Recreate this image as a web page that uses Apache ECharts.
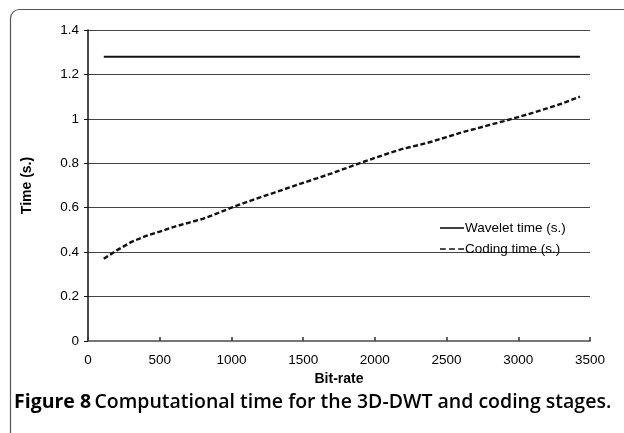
<!DOCTYPE html>
<html>
<head>
<meta charset="utf-8">
<script src="https://cdn.jsdelivr.net/npm/echarts@6/dist/echarts.min.js"></script>
<style>
  html, body { margin: 0; padding: 0; background: #fff; }
  #chart { width: 624px; height: 433px; }
</style>
</head>
<body>
<div id="chart"></div>
<script>
// Bit-rate samples (x axis)
const bitRates = [110, 200, 300, 400, 500, 600, 700, 800, 900, 1000, 1100, 1200, 1300, 1400, 1500,
  1600, 1700, 1800, 1900, 2000, 2100, 2200, 2300, 2400, 2500, 2600, 2700, 2800, 2900, 3000,
  3100, 3200, 3300, 3430];
// 3D-DWT time is independent of the bit-rate
const waveletTimes = bitRates.map(() => 1.28);
// Coding stage time (s.)
const codingTimes = [0.370, 0.408, 0.445, 0.472, 0.492, 0.514, 0.532, 0.550, 0.574, 0.600, 0.624,
  0.647, 0.668, 0.690, 0.712, 0.733, 0.755, 0.778, 0.802, 0.824, 0.846, 0.866, 0.881, 0.898,
  0.918, 0.938, 0.955, 0.973, 0.990, 1.008, 1.027, 1.047, 1.068, 1.100];
const seriesNames = ['Wavelet time (s.)', 'Coding time (s.)'];
const xTicks = { min: 0, max: 3500, interval: 500 };
const yTicks = { min: 0, max: 1.4, interval: 0.2 };

const pairs = (ys) => bitRates.map((b, i) => [b, ys[i]]);

const chart = echarts.init(document.getElementById('chart'), null, { renderer: 'canvas' });
chart.setOption({
  animation: false,
  backgroundColor: '#fff',
  textStyle: { fontFamily: 'Liberation Sans, Arial, sans-serif' },
  grid: { left: 88, right: 34, top: 30, bottom: 92 },
  legend: {
    data: [
      { name: seriesNames[0], icon: 'path://M0,0L30,0L30,2L0,2Z' },
      { name: seriesNames[1], icon: 'path://M0,0L7,0L7,2L0,2ZM11,0L18,0L18,2L11,2ZM22,0L29,0L29,2L22,2Z' }
    ],
    orient: 'vertical',
    left: 440,
    top: 221,
    itemWidth: 24,
    itemHeight: 2,
    itemGap: 7,
    textStyle: { fontSize: 13.5, color: '#000', padding: [0, 0, 0, -4] },
    padding: 0
  },
  xAxis: {
    type: 'value',
    min: xTicks.min, max: xTicks.max, interval: xTicks.interval,
    name: 'Bit-rate',
    nameLocation: 'middle',
    nameGap: 27,
    nameTextStyle: { fontWeight: 'bold', fontSize: 14, color: '#000' },
    axisLine: { lineStyle: { color: '#777', width: 2 } },
    axisTick: { inside: true, length: 4, lineStyle: { color: '#333', width: 1.5 } },
    axisLabel: { color: '#000', fontSize: 13.5, margin: 12, formatter: (v) => String(v) },
    splitLine: { show: false }
  },
  yAxis: {
    type: 'value',
    min: yTicks.min, max: yTicks.max, interval: yTicks.interval,
    name: 'Time (s.)',
    nameLocation: 'middle',
    nameRotate: 90,
    nameGap: 54,
    nameTextStyle: { fontWeight: 'bold', fontSize: 14, color: '#000' },
    axisLine: { show: true, lineStyle: { color: '#111', width: 1.5 } },
    axisTick: { show: true, length: 4, lineStyle: { color: '#111' } },
    axisLabel: { color: '#000', fontSize: 13.5, margin: 9 },
    splitLine: { lineStyle: { color: '#444', width: 1 } }
  },
  series: [
    {
      name: seriesNames[0], type: 'line', data: pairs(waveletTimes),
      showSymbol: false, lineStyle: { color: '#111', width: 2 }, itemStyle: { color: '#111' }
    },
    {
      name: seriesNames[1], type: 'line', data: pairs(codingTimes),
      showSymbol: false, lineStyle: { color: '#111', width: 2.4, type: [5, 2.5] }, itemStyle: { color: '#111' }
    }
  ],
  graphic: [
    {
      type: 'rect', left: 8, top: 7, silent: true,
      shape: { width: 660, height: 460, r: 9 },
      style: { fill: 'none', stroke: '#555', lineWidth: 1.2 }
    },
    {
      type: 'text', left: 14, top: 392,
      style: {
        text: '{b|Figure 8} {n|Computational time for the 3D-DWT and coding stages.}',
        rich: {
          b: { fontFamily: 'Open Sans', fontWeight: 'bold', fontSize: 19.5, fill: '#000' },
          n: { fontFamily: 'Open Sans', fontWeight: 600, fontSize: 19.5, fill: '#000' }
        }
      }
    }
  ]
});
</script>
</body>
</html>
